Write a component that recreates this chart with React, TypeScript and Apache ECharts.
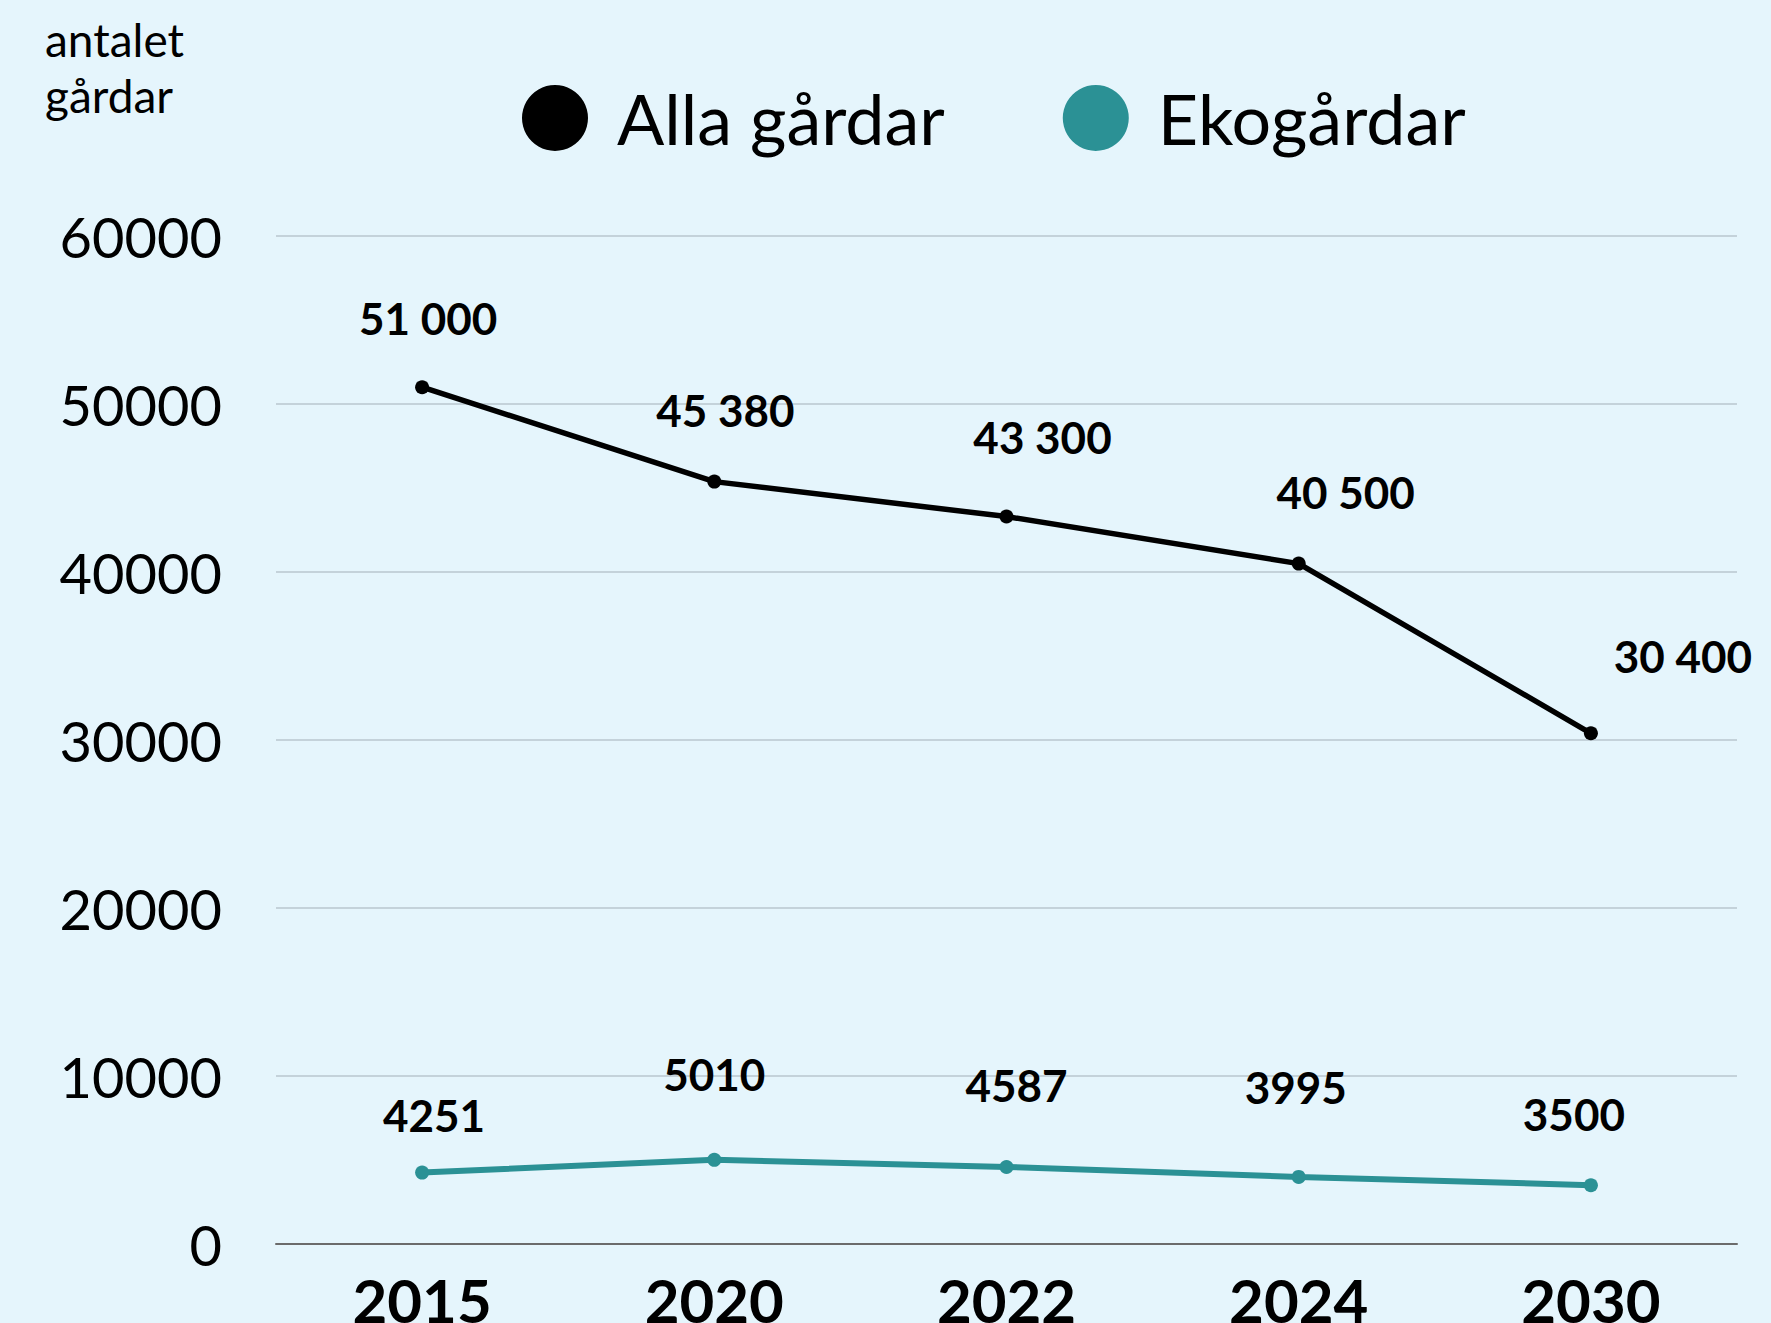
import React, { useEffect, useRef } from "react";
import * as echarts from "echarts";

const years = ["2015", "2020", "2022", "2024", "2030"];
const allaGardar = [51000, 45380, 43300, 40500, 30400];
const ekoGardar = [4251, 5010, 4587, 3995, 3500];
const yTicks = { min: 0, max: 60000, interval: 10000 };
const allaLabelOffsets = [[6, -69], [11, -72], [36, -80], [47, -72], [92, -77]];
const ekoLabelOffsets = [[12, -58], [0, -86], [10, -82], [-3, -90], [-17, -71]];

const FONT = "Lato, 'Noto Sans', sans-serif";
const BG = "#e5f5fc";
const TEAL = "#2b9195";

function fmtSpace(v: number) {
  return String(v).replace(/\B(?=(\d{3})+(?!\d))/g, " ");
}

export default function App() {
  const ref = useRef<HTMLDivElement>(null);
  useEffect(() => {
    document.body.style.margin = "0";
    const chart = echarts.init(ref.current!, null, { renderer: "svg" });
    const labelStyle = {
      show: true,
      position: "inside" as const,
      fontFamily: FONT,
      fontWeight: "bold" as const,
      fontSize: 44,
      color: "#000",
    };
    chart.setOption({
      animation: false,
      backgroundColor: BG,
      grid: { left: 276, right: 34, top: 236, bottom: 79, outerBoundsMode: "none", containLabel: false },
      legend: {
        left: 517,
        top: 78,
        icon: "circle",
        itemWidth: 66,
        itemHeight: 66,
        itemGap: 118,
        textStyle: { fontFamily: FONT, fontSize: 70, color: "#000", padding: [0, 0, 0, 24] },
        data: ["Alla gårdar", "Ekogårdar"],
      },
      graphic: [
        {
          type: "text",
          left: 45,
          top: 11,
          style: {
            text: "antalet\ngårdar",
            fontFamily: FONT,
            fontSize: 46,
            lineHeight: 56,
            fill: "#000",
          },
        },
      ],
      xAxis: {
        type: "category",
        data: years,
        axisLine: { lineStyle: { color: "#6b6b6b", width: 2 } },
        axisTick: { show: false },
        axisLabel: { fontFamily: FONT, fontSize: 60, fontWeight: "bold", color: "#000", margin: 26 },
      },
      yAxis: {
        type: "value",
        min: yTicks.min,
        max: yTicks.max,
        interval: yTicks.interval,
        axisLine: { show: false },
        axisTick: { show: false },
        splitLine: { lineStyle: { color: "#b9c6cf", width: 1.5 } },
        axisLabel: {
          fontFamily: FONT,
          fontSize: 56,
          color: "#000",
          margin: 54,
          formatter: (v: number) => String(v),
        },
      },
      series: [
        {
          name: "Alla gårdar",
          type: "line",
          data: allaGardar.map((v, i) => ({
            value: v,
            label: { offset: allaLabelOffsets[i] },
          })),
          color: "#000",
          lineStyle: { color: "#000", width: 5.5 },
          symbol: "circle",
          symbolSize: 14,
          itemStyle: { color: "#000" },
          label: { ...labelStyle, formatter: (p: any) => fmtSpace(p.value) },
        },
        {
          name: "Ekogårdar",
          type: "line",
          data: ekoGardar.map((v, i) => ({
            value: v,
            label: { offset: ekoLabelOffsets[i] },
          })),
          color: TEAL,
          lineStyle: { color: TEAL, width: 6 },
          symbol: "circle",
          symbolSize: 14,
          itemStyle: { color: TEAL },
          label: { ...labelStyle, formatter: (p: any) => String(p.value) },
        },
      ],
    });
    return () => chart.dispose();
  }, []);
  return <div ref={ref} style={{ width: 1771, height: 1323 }} />;
}
